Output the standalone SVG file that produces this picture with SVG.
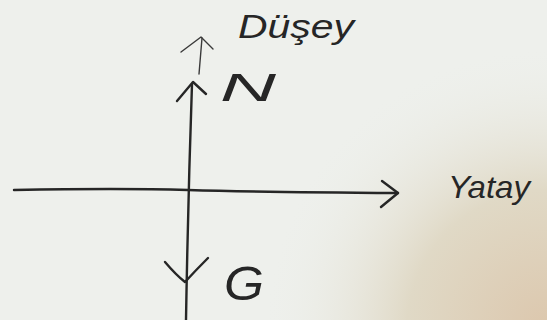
<svg xmlns="http://www.w3.org/2000/svg" width="547" height="320" viewBox="0 0 547 320">
<defs>
<radialGradient id="warm" cx="547" cy="330" r="280" gradientUnits="userSpaceOnUse">
<stop offset="0" stop-color="#dcc7ad"/>
<stop offset="0.5" stop-color="#e0d9c6"/>
<stop offset="1" stop-color="#eceee9" stop-opacity="0"/>
</radialGradient>
</defs>
<style>
.ink{fill:none;stroke:#262626;stroke-width:2.4;stroke-linecap:round;stroke-linejoin:round}
.thin{fill:none;stroke:#3a3a3a;stroke-width:1.4;stroke-linecap:round;stroke-linejoin:round}
.lbl{font-family:"Liberation Sans",Arial,sans-serif;font-style:italic;fill:#262626}
</style>
<rect width="547" height="320" fill="#eef0ec"/>
<rect width="547" height="320" fill="url(#warm)"/>
<g id="connectors">
<path class="ink" d="M14 190 Q120 188 188 190 T398 193"/>
<path class="ink" d="M382 181 L398 193 L381 207"/>
<path class="ink" d="M186 320 Q188 200 192 84"/>
<path class="ink" d="M177 101 L193 82 L206 94"/>
<path class="ink" d="M165 262 Q176 275 185 282 Q196 270 208 258"/>
<path class="thin" d="M199 74 L202 38"/>
<path class="thin" d="M181 52 L201 37 L213 49"/>
</g>
<g id="node-dusey">
<text class="lbl" x="238" y="38" font-size="34" textLength="116" lengthAdjust="spacingAndGlyphs">Düşey</text>
</g>
<g id="node-n">
<text class="lbl" x="220" y="101" font-size="38" textLength="56" lengthAdjust="spacingAndGlyphs">N</text>
</g>
<g id="node-yatay">
<text class="lbl" x="448" y="198" font-size="32" textLength="82" lengthAdjust="spacingAndGlyphs">Yatay</text>
</g>
<g id="node-g">
<text class="lbl" x="224" y="300" font-size="48" textLength="40" lengthAdjust="spacingAndGlyphs">G</text>
</g>
</svg>
